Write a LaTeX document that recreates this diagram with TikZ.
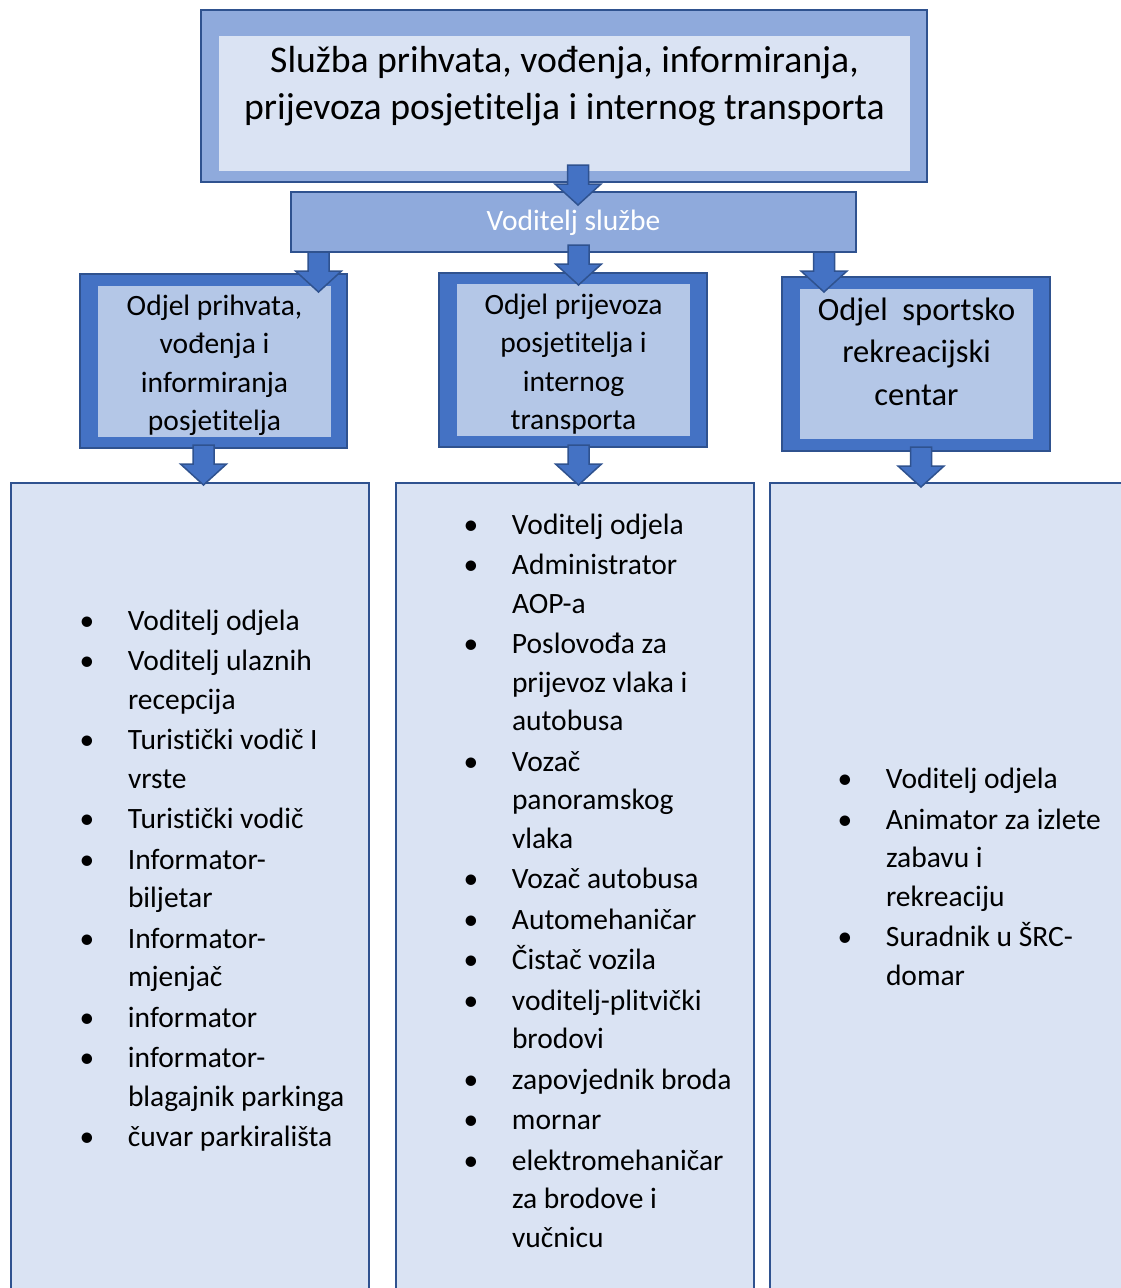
\documentclass[tikz,border=0pt]{standalone}
\usepackage{fontspec}
\setmainfont{Carlito}[Ligatures=NoCommon]
\usetikzlibrary{calc}
\definecolor{bmid}{HTML}{8FAADC}
\definecolor{bpale}{HTML}{DAE3F3}
\definecolor{bdark}{HTML}{4472C4}
\definecolor{blite}{HTML}{B4C7E7}
\definecolor{bline}{HTML}{2F528F}
\newcommand\bul{\makebox[41pt][l]{\makebox[0pt]{•}}}
\newcommand\barrow[2]{\draw[blk] let \p1=(#1), \p2=(#2) in
  ({\x1-10.5pt},\y1) -- ({\x1-10.5pt},{\y2+21pt}) -- ({\x1-23pt},{\y2+21pt}) --
  (\x1,\y2) -- ({\x1+23pt},{\y2+21pt}) -- ({\x1+10.5pt},{\y2+21pt}) --
  ({\x1+10.5pt},\y1) -- cycle;}
\tikzset{
  box/.style={rectangle, inner sep=0pt, outer sep=0pt, draw=bline, line width=2pt},
  flat/.style={rectangle, inner sep=0pt, outer sep=0pt, draw=none},
  txt/.style={inner sep=0pt, outer sep=0pt, anchor=base, font=\fontsize{29.5}{38.5}\selectfont},
  lst/.style={inner sep=0pt, outer sep=0pt, anchor=base west, font=\fontsize{29.5}{38.5}\selectfont},
  blk/.style={fill=bdark, draw=bline, line width=1.5pt, line join=miter},
}
\begin{document}
\begin{tikzpicture}[x=1pt,y=-1pt]
\useasboundingbox (0,0) rectangle (1121,1288);
\clip (0,0) rectangle (1121,1288);
\fill[white] (0,0) rectangle (1121,1288);
% top box
\node[box, fill=bmid, minimum width=726pt, minimum height=172pt] (top) at (564,96) {};
\node[flat, fill=bpale, minimum width=691pt, minimum height=135pt] (topin) at (564.5,103.5) {};
% voditelj sluzbe
\node[box, fill=bmid, minimum width=565pt, minimum height=60pt] (vod) at (573.5,222) {};
% departments
\node[box, fill=bdark, minimum width=267pt, minimum height=174pt] (dL) at (213.5,361) {};
\node[flat, fill=blite, minimum width=233pt, minimum height=151pt] (dLin) at (214.5,361.5) {};
\node[box, fill=bdark, minimum width=268pt, minimum height=174pt] (dM) at (573,360) {};
\node[flat, fill=blite, minimum width=233pt, minimum height=152pt] (dMin) at (573.5,360) {};
\node[box, fill=bdark, minimum width=268pt, minimum height=174pt] (dR) at (916,364) {};
\node[flat, fill=blite, minimum width=233pt, minimum height=150pt] (dRin) at (916.5,364) {};
% bottom boxes
\node[box, fill=bpale, line width=1.5pt, minimum width=358pt, minimum height=827pt] (bL) at (190,896.5) {};
\node[box, fill=bpale, line width=1.5pt, minimum width=358pt, minimum height=827pt] (bM) at (575,896.5) {};
\node[box, fill=bpale, line width=1.5pt, minimum width=370pt, minimum height=827pt] (bR) at (955,896.5) {};
% arrow end points
\coordinate (a1s) at ([xshift=14pt,yshift=17pt]top.south);
\coordinate (a1t) at ([xshift=4.5pt,yshift=-13pt]vod.north);
\coordinate (a2s) at ([xshift=-255pt]vod.south);
\coordinate (a2t) at ([xshift=105pt,yshift=-18pt]dL.north);
\coordinate (a3s) at ([xshift=5pt,yshift=7pt]vod.south);
\coordinate (a3t) at ([xshift=5.5pt,yshift=-12pt]dM.north);
\coordinate (a4s) at ([xshift=250.5pt]vod.south);
\coordinate (a4t) at ([xshift=-92pt,yshift=-15pt]dR.north);
\coordinate (a5s) at ([xshift=-10pt,yshift=3pt]dL.south);
\coordinate (a5t) at ([xshift=13.5pt,yshift=-2pt]bL.north);
\coordinate (a6s) at ([xshift=5.5pt,yshift=2pt]dM.south);
\coordinate (a6t) at ([xshift=3.5pt,yshift=-2pt]bM.north);
\coordinate (a7s) at ([xshift=5pt,yshift=4pt]dR.south);
\coordinate (a7t) at ([xshift=-34pt,yshift=-4pt]bR.north);
\barrow{a1s}{a1t}
\barrow{a2s}{a2t}
\barrow{a3s}{a3t}
\barrow{a4s}{a4t}
\barrow{a5s}{a5t}
\barrow{a6s}{a6t}
\barrow{a7s}{a7t}
% texts
\node[txt, font=\fontsize{37.7}{47.5}\selectfont] (title) at (564.5,72)
  {\begin{tabular}[t]{@{}c@{}}Služba prihvata, vođenja, informiranja,\\prijevoza posjetitelja i internog transporta\end{tabular}};
\node[txt, text=white] (vodt) at (573.5,230) {Voditelj službe};
\node[txt] (dLt) at (214.5,315)
  {\begin{tabular}[t]{@{}c@{}}Odjel prihvata,\\vođenja i\\informiranja\\posjetitelja\end{tabular}};
\node[txt] (dMt) at (573.5,314)
  {\begin{tabular}[t]{@{}c@{}}Odjel prijevoza\\posjetitelja i\\internog\\transporta\end{tabular}};
\node[txt, font=\fontsize{32.5}{42.5}\selectfont] (dRt) at (916.5,320)
  {\begin{tabular}[t]{@{}c@{}}Odjel\ \ sportsko\\rekreacijski\\centar\end{tabular}};
\node[lst] (lL) at (87,630)
  {\begin{tabular}[t]{@{}l@{}l@{}}
   \bul & Voditelj odjela\\[2pt]
   \bul & Voditelj ulaznih\\ & recepcija\\[2pt]
   \bul & Turistički vodič I\\ & vrste\\[2pt]
   \bul & Turistički vodič\\[2pt]
   \bul & Informator-\\ & biljetar\\[2pt]
   \bul & Informator-\\ & mjenjač\\[2pt]
   \bul & informator\\[2pt]
   \bul & informator-\\ & blagajnik parkinga\\[2pt]
   \bul & čuvar parkirališta
  \end{tabular}};
\node[lst] (lM) at (471,534)
  {\begin{tabular}[t]{@{}l@{}l@{}}
   \bul & Voditelj odjela\\[2pt]
   \bul & Administrator\\ & AOP-a\\[2pt]
   \bul & Poslovođa za\\ & prijevoz vlaka i\\ & autobusa\\[2pt]
   \bul & Vozač\\ & panoramskog\\ & vlaka\\[2pt]
   \bul & Vozač autobusa\\[2pt]
   \bul & Automehaničar\\[2pt]
   \bul & Čistač vozila\\[2pt]
   \bul & voditelj-plitvički\\ & brodovi\\[2pt]
   \bul & zapovjednik broda\\[2pt]
   \bul & mornar\\[2pt]
   \bul & elektromehaničar\\ & za brodove i\\ & vučnicu
  \end{tabular}};
\node[lst] (lR) at (845,788.5)
  {\begin{tabular}[t]{@{}l@{}l@{}}
   \bul & Voditelj odjela\\[2pt]
   \bul & Animator za izlete\\ & zabavu i\\ & rekreaciju\\[2pt]
   \bul & Suradnik u ŠRC-\\ & domar
  \end{tabular}};
\end{tikzpicture}
\end{document}
